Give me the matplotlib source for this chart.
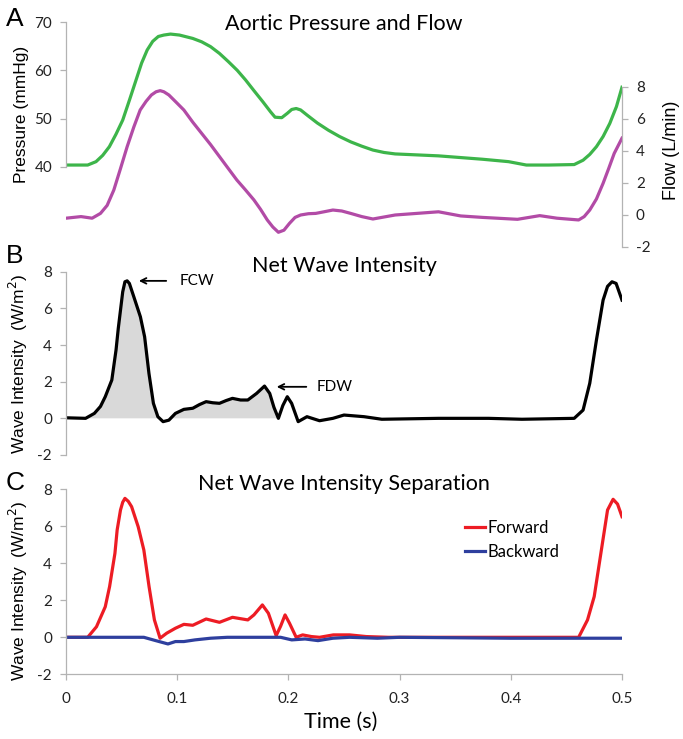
import numpy as np
import matplotlib
matplotlib.use("Agg")
import matplotlib.pyplot as plt

plt.rcParams["axes.unicode_minus"] = False

# panel A: aortic pressure (mmHg) and flow (L/min)
pressure_t = [0.0, 0.002, 0.0195, 0.027, 0.033, 0.039, 0.045, 0.051, 0.057, 0.063,
              0.068, 0.073, 0.078, 0.083, 0.088, 0.094, 0.102, 0.114, 0.122, 0.130,
              0.138, 0.146, 0.154, 0.1615, 0.169, 0.177, 0.184, 0.188, 0.194, 0.199,
              0.203, 0.207, 0.211, 0.217, 0.226, 0.236, 0.246, 0.256, 0.266, 0.276,
              0.286, 0.296, 0.335, 0.3745, 0.398, 0.414, 0.434, 0.457, 0.465, 0.471,
              0.477, 0.483, 0.489, 0.495, 0.5]
pressure = [40.4, 40.4, 40.4, 41.1, 42.4, 44.2, 46.8, 49.7, 53.8, 58.0,
            61.5, 64.2, 66.0, 67.0, 67.3, 67.5, 67.3, 66.6, 65.9, 64.9,
            63.5, 61.8, 60.0, 58.0, 55.8, 53.5, 51.4, 50.3, 50.2, 51.1,
            51.9, 52.1, 51.8, 50.7, 49.1, 47.6, 46.3, 45.2, 44.3, 43.5,
            43.0, 42.7, 42.3, 41.6, 41.1, 40.4, 40.4, 40.5, 41.4, 42.6,
            44.2, 46.3, 49.0, 52.5, 56.5]

flow_t = [0.0, 0.0135, 0.0235, 0.031, 0.037, 0.043, 0.049, 0.055, 0.061, 0.0667,
          0.072, 0.0768, 0.081, 0.0847, 0.088, 0.0925, 0.099, 0.106, 0.114, 0.122,
          0.130, 0.138, 0.146, 0.1536, 0.161, 0.169, 0.175, 0.181, 0.186, 0.191,
          0.196, 0.201, 0.206, 0.211, 0.218, 0.2246, 0.232, 0.24, 0.248, 0.256,
          0.266, 0.276, 0.296, 0.335, 0.355, 0.3745, 0.406, 0.426, 0.4415, 0.461,
          0.466, 0.471, 0.477, 0.483, 0.488, 0.493, 0.5]
flow = [-0.2, -0.1, -0.2, 0.1, 0.6, 1.56, 2.9, 4.27, 5.5, 6.56,
        7.1, 7.5, 7.7, 7.77, 7.7, 7.5, 7.05, 6.56, 5.8, 5.1,
        4.4, 3.65, 2.9, 2.19, 1.6, 0.94, 0.35, -0.31, -0.75, -1.08,
        -0.95, -0.52, -0.15, 0.0, 0.08, 0.1, 0.2, 0.31, 0.25, 0.1,
        -0.1, -0.25, 0.0, 0.2, -0.06, -0.15, -0.27, -0.04, -0.2, -0.31,
        -0.1, 0.31, 1.0, 1.98, 2.9, 3.85, 4.8]

# panel B: net wave intensity (W/m2)
net_t = [0.0, 0.0176, 0.0255, 0.031, 0.0353, 0.0412, 0.045, 0.047, 0.049, 0.051,
         0.053, 0.055, 0.057, 0.061, 0.0669, 0.0707, 0.0746, 0.0786, 0.0826, 0.0873,
         0.0925, 0.0984, 0.106, 0.114, 0.120, 0.126, 0.132, 0.138, 0.144, 0.1497,
         0.157, 0.1635, 0.1714, 0.1785, 0.1832, 0.187, 0.191, 0.195, 0.199, 0.2029,
         0.2088, 0.2167, 0.228, 0.24, 0.25, 0.268, 0.284, 0.335, 0.38, 0.41,
         0.457, 0.465, 0.471, 0.477, 0.483, 0.487, 0.491, 0.4947, 0.5]
net_wi = [0.03, 0.0, 0.27, 0.65, 1.18, 2.09, 3.73, 4.9, 5.9, 6.9,
          7.45, 7.5, 7.36, 6.63, 5.54, 4.45, 2.45, 0.82, 0.09, -0.18,
          -0.1, 0.27, 0.49, 0.55, 0.75, 0.91, 0.85, 0.82, 0.97, 1.09,
          1.0, 1.0, 1.36, 1.76, 1.36, 0.6, 0.0, 0.7, 1.18, 0.82,
          -0.18, 0.09, -0.13, 0.0, 0.18, 0.09, -0.05, 0.0, 0.0, -0.05,
          0.0, 0.45, 1.91, 4.27, 6.45, 7.2, 7.45, 7.36, 6.45]

# panel C: separated forward / backward intensity (W/m2)
fwd_t = [0.0, 0.0195, 0.0274, 0.0353, 0.0392, 0.044, 0.046, 0.049, 0.051, 0.053,
         0.056, 0.059, 0.0649, 0.070, 0.0747, 0.0795, 0.0846, 0.0905, 0.0984, 0.106,
         0.114, 0.126, 0.138, 0.1497, 0.1635, 0.169, 0.1766, 0.182, 0.189, 0.193,
         0.197, 0.201, 0.207, 0.2128, 0.2207, 0.228, 0.2404, 0.255, 0.27, 0.29,
         0.461, 0.469, 0.475, 0.481, 0.487, 0.492, 0.496, 0.5]
fwd_wi = [0.0, 0.0, 0.57, 1.65, 2.74, 4.54, 5.8, 6.88, 7.3, 7.51,
          7.35, 7.06, 5.98, 4.72, 2.74, 0.94, -0.05, 0.22, 0.49, 0.70,
          0.65, 0.99, 0.81, 1.08, 0.94, 1.21, 1.75, 1.30, 0.09, 0.6,
          1.21, 0.76, 0.0, 0.13, 0.04, 0.0, 0.13, 0.13, 0.04, 0.0,
          0.0, 0.94, 2.2, 4.54, 6.88, 7.46, 7.2, 6.52]

bwd_t = [0.0, 0.059, 0.07, 0.0807, 0.0917, 0.0984, 0.106, 0.116, 0.130, 0.145,
         0.193, 0.203, 0.215, 0.2266, 0.240, 0.255, 0.28, 0.30, 0.40, 0.5]
bwd_wi = [0.0, 0.0, 0.0, -0.18, -0.36, -0.23, -0.23, -0.14, -0.05, 0.0,
          0.0, -0.14, -0.09, -0.18, -0.05, 0.0, -0.05, 0.0, -0.05, -0.05]

wi_ticks = [-2, 0, 2, 4, 6, 8]
time_ticks = [0, 0.1, 0.2, 0.3, 0.4, 0.5]
time_labels = ["0", "0.1", "0.2", "0.3", "0.4", "0.5"]

W, H = 683, 739
tick_font = "Lato"
label_font = "Liberation Sans"
spine_col = "#b3b3b3"


def px_axes(left, top, right, bottom):
    return fig.add_axes([left / W, 1 - bottom / H, (right - left) / W, (bottom - top) / H])


def style(ax, sides):
    for s in ["left", "right", "top", "bottom"]:
        ax.spines[s].set_visible(s in sides)
        ax.spines[s].set_color(spine_col)
        ax.spines[s].set_linewidth(0.9)
    ax.tick_params(direction="out", length=4, width=0.9, color=spine_col,
                   labelcolor="#222222", labelsize=11, pad=6)
    for lab in ax.get_xticklabels() + ax.get_yticklabels():
        lab.set_family(tick_font)
    ax.set_xlim(0, 0.5)


fig = plt.figure(figsize=(W / 100, H / 100), dpi=100)

# ---- A
axA = px_axes(66, 22, 622, 247)
axA.plot(pressure_t, pressure, color="#3db54a", lw=2.3, solid_joinstyle="round")
axA.set_ylim(23.44, 70)
axA.set_yticks([40, 50, 60, 70])
axA.set_xticks([])
style(axA, ["left"])
axA.spines["left"].set_bounds(40, 70)

axA2 = axA.twinx()
axA2.plot(flow_t, flow, color="#b24ba6", lw=2.3, solid_joinstyle="round")
axA2.set_ylim(-2, 12.06)
axA2.set_yticks(wi_ticks)
axA2.set_xticks([])
style(axA2, ["right"])
axA2.spines["right"].set_bounds(-2, 8)
axA.text(0.5, 0.99, "Aortic Pressure and Flow", transform=axA.transAxes,
         ha="center", va="center", family=tick_font, fontsize=15.5)

# ---- B
axB = px_axes(66, 271.7, 622, 455)
net_t_arr = np.array(net_t)
net_arr = np.array(net_wi)
axB.fill_between(net_t_arr, net_arr, 0, where=(net_arr >= 0) & (net_t_arr <= 0.191),
                 color="#d9d9d9", interpolate=True, lw=0)
axB.plot(net_t, net_wi, color="black", lw=2.3, solid_joinstyle="round")
axB.set_ylim(-2, 8)
axB.set_yticks(wi_ticks)
axB.set_xticks([])
style(axB, ["left"])
axB.text(0.5, 1.03, "Net Wave Intensity", transform=axB.transAxes,
         ha="center", va="center", family=tick_font, fontsize=15.5)
axB.annotate("", xy=(0.063, 7.5), xytext=(0.0926, 7.5),
             arrowprops=dict(arrowstyle="->", color="black", lw=1.3))
axB.text(0.1025, 7.5, "FCW", ha="left", va="center", family=tick_font, fontsize=11)
axB.annotate("", xy=(0.187, 1.72), xytext=(0.2186, 1.72),
             arrowprops=dict(arrowstyle="->", color="black", lw=1.3))
axB.text(0.2254, 1.72, "FDW", ha="left", va="center", family=tick_font, fontsize=11)

# ---- C
axC = px_axes(66, 489.3, 622, 674.3)
axC.plot(fwd_t, fwd_wi, color="#ed1c24", lw=2.3, solid_joinstyle="round", label="Forward")
axC.plot(bwd_t, bwd_wi, color="#2e3f9e", lw=2.3, solid_joinstyle="round", label="Backward")
axC.set_ylim(-2, 8)
axC.set_yticks(wi_ticks)
axC.set_xticks(time_ticks)
axC.set_xticklabels(time_labels)
style(axC, ["left", "bottom"])
axC.tick_params(axis="x", pad=9)
axC.text(0.5, 1.03, "Net Wave Intensity Separation", transform=axC.transAxes,
         ha="center", va="center", family=tick_font, fontsize=15.5)
axC.legend(loc="upper left", bbox_to_anchor=(0.7176, 0.835), frameon=False,
           borderpad=0, borderaxespad=0, handlelength=1.2, handletextpad=0.15,
           labelspacing=0.5, prop={"family": tick_font, "size": 12})

# ---- figure-level labels
fig.text(22 / W, 1 - 114 / H, "Pressure (mmHg)", rotation=90, ha="center", va="center",
         family=label_font, fontsize=12.5)
fig.text(672 / W, 1 - 150 / H, "Flow (L/min)", rotation=90, ha="center", va="center",
         family=label_font, fontsize=13)
fig.text(18 / W, 1 - 364 / H, "Wave Intensity  (W/m$^2$)", rotation=90, ha="center",
         va="center", family=label_font, fontsize=12.5)
fig.text(18 / W, 1 - 591 / H, "Wave Intensity  (W/m$^2$)", rotation=90, ha="center",
         va="center", family=label_font, fontsize=12.5)
fig.text(341 / W, 1 - 722 / H, "Time (s)", ha="center", va="center",
         family=tick_font, fontsize=15.5)
for letter, y in [("A", 19), ("B", 256), ("C", 483)]:
    fig.text(6 / W, 1 - y / H, letter, ha="left", va="center", family=label_font, fontsize=19)

fig.savefig("out.png", dpi=100)
